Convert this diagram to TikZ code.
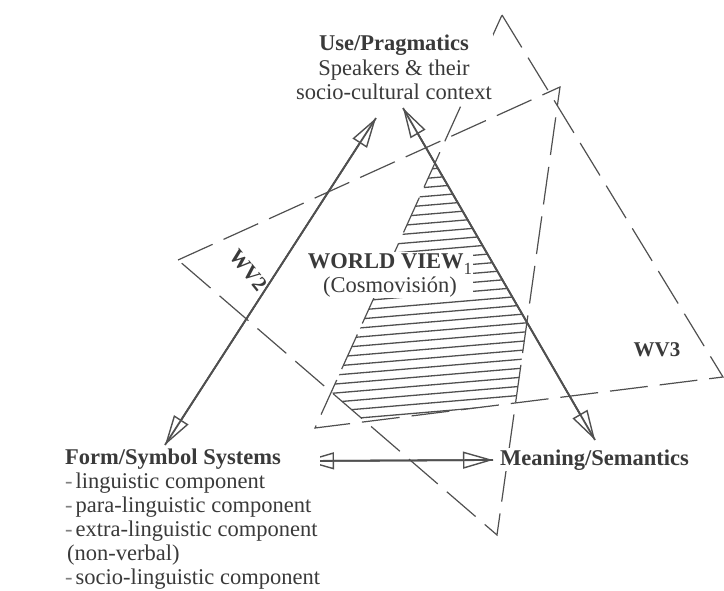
\documentclass[tikz,border=0pt]{standalone}
\usepackage{fontspec}
\setmainfont{Liberation Serif}
\usetikzlibrary{arrows.meta}
\definecolor{ink}{HTML}{505050}
\definecolor{txt}{HTML}{3A3A3A}
\tikzset{
  txtnode/.style={text=txt, fill=white, inner sep=1pt, font=\fontsize{22.5}{24.5}\selectfont},
  wvlabel/.style={text=txt, inner sep=1pt, font=\fontsize{21}{21}\selectfont\bfseries},
  relarrow/.style={preaction={draw=ink, line width=1.8pt, arrows=-},
    draw=ink, line width=1.8pt,
    {Triangle[open,length=30pt,width=17pt,line width=1.4pt]}-{Triangle[open,length=30pt,width=17pt,line width=1.4pt]}},
  wvline/.style={draw=ink, line width=1.2pt, dash pattern=on 38pt off 12pt},
  hatchline/.style={draw=ink, line width=1.3pt}
}

\begin{document}
\begin{tikzpicture}[x=1pt,y=-1pt]
\useasboundingbox (0,0) rectangle (724,591);

% ends of the three double arrows
\coordinate (uL) at (376,118);
\coordinate (uR) at (403,108);
\coordinate (fT) at (165,445);
\coordinate (fR) at (304,461);
\coordinate (mL) at (493,460);
\coordinate (mT) at (595,440);

% world view triangles
\coordinate (w2a) at (178,260);
\coordinate (w2b) at (560,87);
\coordinate (w2c) at (497,535);
\coordinate (w3a) at (502,15);
\coordinate (w3b) at (723,377);
\coordinate (w3c) at (315,428);

% overlap of all three = world view 1
\coordinate (h1) at (intersection of uR--mT and w3a--w3c);
\coordinate (h2) at (intersection of uR--mT and w2b--w2c);
\coordinate (h3) at (intersection of w2b--w2c and w3b--w3c);
\coordinate (h4) at (intersection of w3b--w3c and w2a--w2c);
\coordinate (h5) at (intersection of w2a--w2c and w3a--w3c);

\begin{scope}
  \clip (h1) -- (h2) -- (h3) -- (h4) -- (h5) -- cycle;
  \foreach \y in {162,171,...,470}
    \draw[hatchline] (300,\y) -- (560,\y-22);
\end{scope}

\draw[wvline] (w2a) -- (w2b) -- (w2c) -- cycle;
\draw[wvline] (w3a) -- (w3b) -- (w3c) -- cycle;

\draw[relarrow] (fT) -- (uL);
\draw[relarrow] (uR) -- (mT);
\draw[relarrow] (fR) -- (mL);

\node[txtnode, anchor=north, align=center] (use) at (394,34)
  {\textbf{Use/Pragmatics}\\Speakers \& their\\socio-cultural context};
\node[txtnode, inner sep=0pt, anchor=north west, align=left,
      font=\fontsize{22.5}{24}\selectfont] (form) at (65,449)
  {\textbf{Form/Symbol Systems}\\
   \textcolor{gray}{-}\hspace{3pt}linguistic component\\
   \textcolor{gray}{-}\hspace{3pt}para-linguistic component\\
   \textcolor{gray}{-}\hspace{3pt}extra-linguistic component\\
   \hspace*{2pt}(non-verbal)\\
   \textcolor{gray}{-}\hspace{3pt}socio-linguistic component};
\node[txtnode, anchor=base west] (mean) at (499,465) {\textbf{Meaning/Semantics}};
\node[txtnode, anchor=north, align=center] (wv1) at (390,252)
  {\textbf{WORLD VIEW}\raisebox{-6pt}{\fontsize{17}{17}\selectfont 1}\\(Cosmovisión)};
\node[wvlabel, rotate=-51] (wv2) at (248,270) {WV2};
\node[wvlabel] (wv3) at (657,350) {WV3};
\end{tikzpicture}
\end{document}
